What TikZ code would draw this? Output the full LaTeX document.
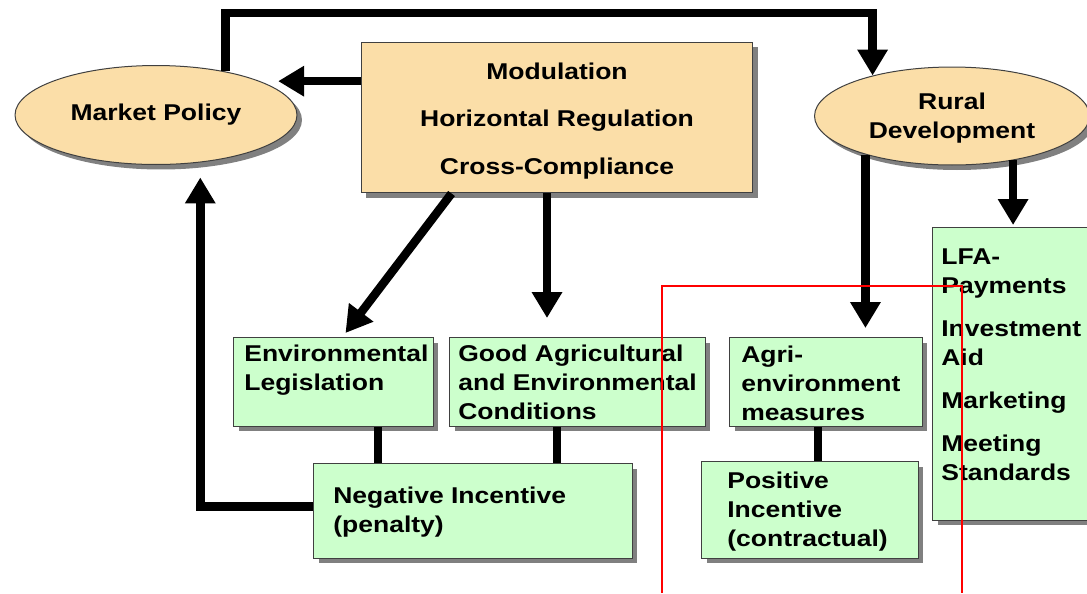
\documentclass[tikz,border=0pt]{standalone}
\usepackage{fontspec}
\setmainfont{Liberation Sans}[FakeStretch=1.16]
\usetikzlibrary{shapes.geometric,shadows,arrows.meta}
\definecolor{peach}{RGB}{251,222,168}
\definecolor{mint}{RGB}{204,255,204}
\tikzset{
	boxfont/.style={font=\bfseries\fontsize{13}{16.5}\selectfont},
	shade/.style={drop shadow={shadow xshift=0.1cm, shadow yshift=-0.1cm, fill=black!50, opacity=1}},
	policy/.style={ellipse, draw=black!75, line width=0.02cm, fill=peach, align=center, boxfont, shade},
	plan/.style={rectangle, draw=black!75, line width=0.02cm, fill=peach, shade},
	measure/.style={rectangle, draw=black!75, line width=0.02cm, fill=mint, anchor=north west, shade},
	words/.style={anchor=north west, inner sep=0pt, align=left, boxfont},
	flow/.style={line width=0.17cm, -{Triangle[length=0.52cm, width=0.58cm]}},
	tie/.style={line width=0.16cm}
}

\begin{document}
\begin{tikzpicture}[x=0.02cm, y=-0.02cm]
		%%%%% START %%%%%
		\useasboundingbox (0,0) rectangle (1087,593);
		
		\node[policy, minimum width=5.64cm, minimum height=1.98cm] (mp) at (156,115) {Market Policy};
		\node[policy, minimum width=5.5cm, minimum height=1.96cm] (rd) at (952,116) {};
		\node[inner sep=0pt, align=center, boxfont] (rd-t) at (952,118.5) {Rural\\Development};
		\node[plan, minimum width=7.84cm, minimum height=3.02cm] (mod) at (557,117.5) {};
		\node[inner sep=0pt, align=center, boxfont] (mod-t) at (557,121) {Modulation\\[10.7pt]Horizontal Regulation\\[10.7pt]Cross-Compliance};
		
		\node[measure, minimum width=4cm, minimum height=1.78cm] (envleg) at (233,337) {};
		\node[measure, minimum width=5.12cm, minimum height=1.78cm] (gaec) at (449,337) {};
		\node[measure, minimum width=6.38cm, minimum height=1.9cm] (neg) at (313,463) {};
		\node[measure, minimum width=3.86cm, minimum height=1.78cm] (agri) at (729,337) {};
		\node[measure, minimum width=4.34cm, minimum height=1.94cm] (pos) at (701,461) {};
		\node[measure, minimum width=3.4cm, minimum height=5.86cm] (lfa) at (932,227) {};
		
		\node[words] (envleg-t) at (244,345) {Environmental\\Legislation};
		\node[words] (gaec-t) at (458,345) {Good Agricultural\\and Environmental\\Conditions};
		\node[words] (neg-t) at (333,487) {Negative Incentive\\(penalty)};
		\node[words] (agri-t) at (741,346) {Agri-\\environment\\measures};
		\node[words] (pos-t) at (727,472) {Positive\\Incentive\\(contractual)};
		\node[words] (lfa-t) at (941,248) {LFA-\\Payments\\[8pt]Investment\\Aid\\[8pt]Marketing\\[8pt]Meeting\\Standards};
		
		\coordinate (loop) at (540,13);
		\coordinate (m1) at ([xshift=-0.2cm]mod.south);
		\coordinate (m2) at ([xshift=1.82cm]mod.south west);
		\coordinate (t1) at ([xshift=0.9cm]envleg.south);
		\coordinate (t2) at ([xshift=-0.4cm]gaec.south);
		\coordinate (t3) at ([xshift=-0.15cm]agri.south);
		
		\draw[flow] (mp.32) -- (mp.32 |- loop) -| (rd.153);
		\draw[flow, shorten >=0.36cm] (mod.west |- mp.18) -- (mp.18);
		\draw[flow] (m2) -- ([xshift=0.24cm, yshift=0.08cm]envleg.north);
		\draw[flow, shorten >=0.38cm] (m1) -- (m1 |- gaec.north);
		\draw[flow, shorten >=0.18cm] (rd.204) -- (rd.204 |- agri.north);
		\draw[flow, shorten >=0.04cm] (rd.324) -- (rd.324 |- lfa.north);
		\draw[flow, shorten >=0.3cm] ([yshift=0.09cm]neg.west) -| (mp.313);
		
		\draw[tie] (t1) -- (t1 |- neg.north);
		\draw[tie] (t2) -- (t2 |- neg.north);
		\draw[tie] (t3) -- (t3 |- pos.north);
		
		\draw[red, line width=0.03cm] (662,593) -- (662,286) -- (962,286) -- (962,593);
		
		%%%%% END %%%%%
	\end{tikzpicture}
\end{document}
